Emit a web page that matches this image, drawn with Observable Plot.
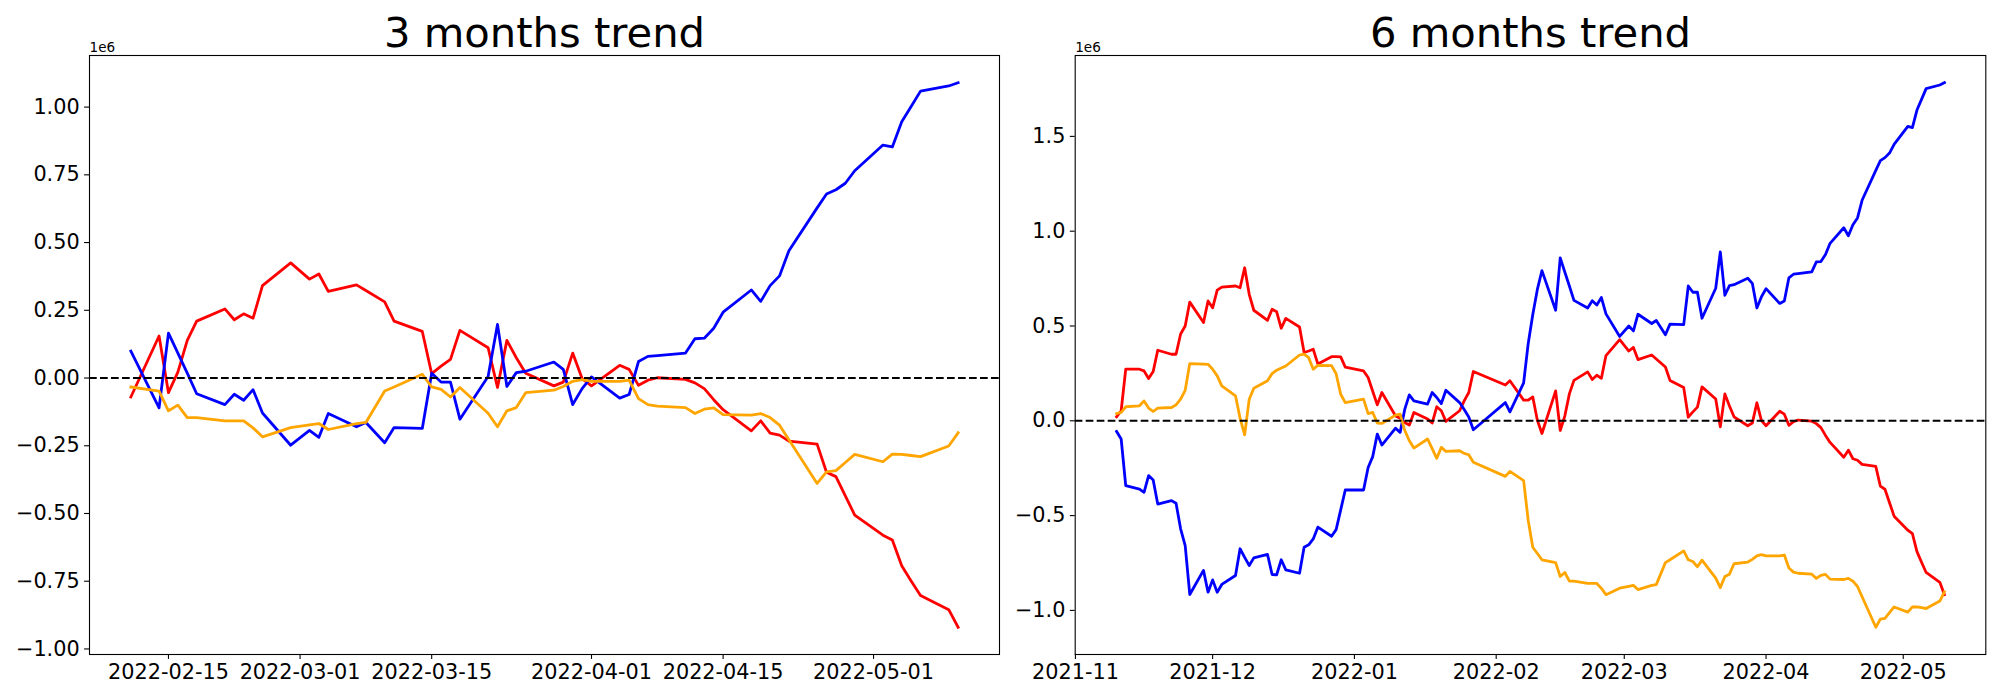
<!DOCTYPE html>
<html>
<head>
<meta charset="utf-8">
<script src="https://cdn.jsdelivr.net/npm/d3@7"></script>
<script src="https://cdn.jsdelivr.net/npm/@observablehq/plot@0.6"></script>
<style>
  html, body { margin: 0; padding: 0; background: #fff; }
  #wrap { position: relative; width: 2000px; height: 700px; overflow: hidden; background: #fff; }
  .panel { position: absolute; top: 0; }
</style>
</head>
<body>
<div id="wrap"></div>
<script>
// ---------- 3 months trend (values in units of 1e6) ----------
const dates3m = ["2022-02-11","2022-02-14","2022-02-15","2022-02-16","2022-02-17","2022-02-18","2022-02-21","2022-02-22","2022-02-23","2022-02-24","2022-02-25","2022-02-28","2022-03-02","2022-03-03","2022-03-04","2022-03-07","2022-03-08","2022-03-10","2022-03-11","2022-03-14","2022-03-15","2022-03-16","2022-03-17","2022-03-18","2022-03-21","2022-03-22","2022-03-23","2022-03-24","2022-03-25","2022-03-28","2022-03-29","2022-03-30","2022-03-31","2022-04-01","2022-04-04","2022-04-05","2022-04-06","2022-04-07","2022-04-08","2022-04-11","2022-04-12","2022-04-13","2022-04-14","2022-04-15","2022-04-18","2022-04-19","2022-04-20","2022-04-21","2022-04-22","2022-04-25","2022-04-26","2022-04-27","2022-04-28","2022-04-29","2022-05-02","2022-05-03","2022-05-04","2022-05-05","2022-05-06","2022-05-09","2022-05-10"];
const red3m = [-0.070,0.155,-0.054,0.022,0.139,0.210,0.255,0.215,0.237,0.221,0.341,0.425,0.365,0.384,0.320,0.344,0.323,0.281,0.210,0.172,0.016,0.044,0.069,0.176,0.112,-0.035,0.139,0.075,0.018,-0.029,-0.015,0.092,-0.002,-0.029,0.047,0.032,-0.027,-0.008,0.001,-0.005,-0.018,-0.039,-0.080,-0.117,-0.195,-0.158,-0.203,-0.211,-0.233,-0.244,-0.348,-0.364,-0.435,-0.506,-0.580,-0.598,-0.693,-0.749,-0.803,-0.855,-0.920];
const blue3m = [0.099,-0.110,0.166,0.092,0.018,-0.058,-0.098,-0.060,-0.082,-0.043,-0.129,-0.248,-0.193,-0.219,-0.131,-0.180,-0.164,-0.239,-0.183,-0.186,0.018,-0.015,-0.015,-0.152,0.006,0.198,-0.031,0.020,0.025,0.059,0.032,-0.098,-0.039,0.004,-0.074,-0.061,0.061,0.080,0.083,0.092,0.145,0.147,0.184,0.243,0.325,0.283,0.341,0.377,0.470,0.628,0.679,0.695,0.719,0.765,0.860,0.853,0.946,1.002,1.059,1.078,1.090];
const orange3m = [-0.033,-0.048,-0.121,-0.100,-0.146,-0.146,-0.158,-0.158,-0.158,-0.184,-0.217,-0.183,-0.173,-0.168,-0.190,-0.168,-0.164,-0.048,-0.033,0.014,-0.033,-0.042,-0.070,-0.035,-0.130,-0.180,-0.121,-0.109,-0.054,-0.045,-0.031,-0.012,-0.006,-0.012,-0.012,-0.008,-0.076,-0.098,-0.104,-0.109,-0.131,-0.115,-0.110,-0.135,-0.137,-0.131,-0.146,-0.174,-0.228,-0.389,-0.346,-0.342,-0.312,-0.282,-0.309,-0.281,-0.282,-0.286,-0.290,-0.251,-0.202];
const xTicks3m = ["2022-02-15","2022-03-01","2022-03-15","2022-04-01","2022-04-15","2022-05-01"];
const yTicks3m = [-1.0,-0.75,-0.5,-0.25,0,0.25,0.5,0.75,1.0];

// ---------- 6 months trend (values in units of 1e6) ----------
const dates6m = ["2021-11-10","2021-11-11","2021-11-12","2021-11-15","2021-11-16","2021-11-17","2021-11-18","2021-11-19","2021-11-22","2021-11-23","2021-11-24","2021-11-25","2021-11-26","2021-11-29","2021-11-30","2021-12-01","2021-12-02","2021-12-03","2021-12-06","2021-12-07","2021-12-08","2021-12-09","2021-12-10","2021-12-13","2021-12-14","2021-12-15","2021-12-16","2021-12-17","2021-12-20","2021-12-21","2021-12-22","2021-12-23","2021-12-24","2021-12-27","2021-12-28","2021-12-29","2021-12-30","2022-01-03","2022-01-04","2022-01-05","2022-01-06","2022-01-07","2022-01-10","2022-01-11","2022-01-12","2022-01-13","2022-01-14","2022-01-17","2022-01-18","2022-01-19","2022-01-20","2022-01-21","2022-01-24","2022-01-25","2022-01-26","2022-01-27","2022-02-03","2022-02-04","2022-02-07","2022-02-08","2022-02-09","2022-02-10",
"2022-02-11","2022-02-14","2022-02-15","2022-02-16","2022-02-17","2022-02-18","2022-02-21","2022-02-22","2022-02-23","2022-02-24","2022-02-25","2022-02-28","2022-03-02","2022-03-03","2022-03-04","2022-03-07","2022-03-08","2022-03-10","2022-03-11","2022-03-14","2022-03-15","2022-03-16","2022-03-17","2022-03-18","2022-03-21","2022-03-22","2022-03-23","2022-03-24","2022-03-25","2022-03-28","2022-03-29","2022-03-30","2022-03-31","2022-04-01","2022-04-04","2022-04-05","2022-04-06","2022-04-07","2022-04-08","2022-04-11","2022-04-12","2022-04-13","2022-04-14","2022-04-15","2022-04-18","2022-04-19","2022-04-20","2022-04-21","2022-04-22","2022-04-25","2022-04-26","2022-04-27","2022-04-28","2022-04-29","2022-05-02","2022-05-03","2022-05-04","2022-05-05","2022-05-06","2022-05-09","2022-05-10"];
const red6m = [0.021,0.053,0.272,0.272,0.263,0.223,0.260,0.372,0.351,0.351,0.458,0.500,0.626,0.518,0.632,0.596,0.689,0.705,0.711,0.702,0.807,0.667,0.583,0.530,0.588,0.575,0.488,0.540,0.495,0.360,0.368,0.377,0.300,0.338,0.338,0.337,0.283,0.263,0.228,0.156,0.084,0.149,0.025,0.014,-0.009,-0.023,0.044,0.009,-0.012,0.074,0.053,-0.003,0.053,0.105,0.149,0.260,0.189,0.211,0.109,0.109,0.126,0.003,
-0.067,0.158,-0.051,0.025,0.142,0.213,0.258,0.218,0.240,0.224,0.344,0.428,0.368,0.387,0.323,0.347,0.326,0.284,0.213,0.175,0.019,0.047,0.072,0.179,0.115,-0.032,0.142,0.078,0.021,-0.026,-0.012,0.095,0.001,-0.026,0.050,0.035,-0.024,-0.005,0.004,-0.002,-0.015,-0.036,-0.077,-0.114,-0.192,-0.155,-0.200,-0.208,-0.230,-0.241,-0.345,-0.361,-0.432,-0.503,-0.577,-0.595,-0.690,-0.746,-0.800,-0.852,-0.917];
const blue6m = [-0.056,-0.096,-0.342,-0.360,-0.377,-0.289,-0.312,-0.439,-0.421,-0.435,-0.570,-0.658,-0.916,-0.789,-0.904,-0.839,-0.904,-0.863,-0.816,-0.675,-0.720,-0.763,-0.723,-0.705,-0.811,-0.812,-0.733,-0.786,-0.804,-0.667,-0.654,-0.623,-0.561,-0.609,-0.574,-0.470,-0.365,-0.365,-0.246,-0.189,-0.070,-0.128,-0.039,-0.061,0.060,0.137,0.105,0.088,0.149,0.123,0.091,0.161,0.096,0.060,0.020,-0.047,0.096,0.047,0.200,0.408,0.561,0.693,
0.792,0.583,0.859,0.785,0.711,0.635,0.595,0.633,0.611,0.650,0.564,0.445,0.500,0.474,0.562,0.513,0.529,0.454,0.510,0.507,0.711,0.678,0.678,0.541,0.699,0.891,0.662,0.713,0.718,0.752,0.725,0.595,0.654,0.697,0.619,0.632,0.754,0.773,0.776,0.785,0.838,0.840,0.877,0.936,1.018,0.976,1.034,1.070,1.163,1.321,1.372,1.388,1.412,1.458,1.553,1.546,1.639,1.695,1.752,1.771,1.783];
const orange6m = [0.038,0.044,0.074,0.079,0.105,0.067,0.049,0.067,0.070,0.084,0.114,0.161,0.302,0.299,0.298,0.272,0.237,0.184,0.132,0.014,-0.074,0.114,0.172,0.211,0.249,0.267,0.278,0.289,0.347,0.352,0.333,0.272,0.292,0.291,0.248,0.140,0.096,0.114,0.038,0.044,-0.012,-0.014,0.030,0.035,-0.050,-0.105,-0.144,-0.096,-0.147,-0.198,-0.140,-0.161,-0.158,-0.172,-0.179,-0.219,-0.293,-0.267,-0.316,-0.526,-0.667,-0.700,
-0.733,-0.748,-0.821,-0.800,-0.846,-0.846,-0.858,-0.858,-0.858,-0.884,-0.917,-0.883,-0.873,-0.868,-0.890,-0.868,-0.864,-0.748,-0.733,-0.686,-0.733,-0.742,-0.770,-0.735,-0.830,-0.880,-0.821,-0.809,-0.754,-0.745,-0.731,-0.712,-0.706,-0.712,-0.712,-0.708,-0.776,-0.798,-0.804,-0.809,-0.831,-0.815,-0.810,-0.835,-0.837,-0.831,-0.846,-0.874,-0.928,-1.089,-1.046,-1.042,-1.012,-0.982,-1.009,-0.981,-0.982,-0.986,-0.990,-0.951,-0.902];
const xTicks6m = ["2021-11-01","2021-12-01","2022-01-01","2022-02-01","2022-03-01","2022-04-01","2022-05-01"];
const yTicks6m = [-1.0,-0.5,0,0.5,1.0,1.5];

const seriesColors = ["red","blue","orange"];
const titles = ["3 months trend","6 months trend"];

const parse = d3.utcParse("%Y-%m-%d");
const toRows = (dates, vals) => dates.map((d, i) => ({date: parse(d), value: vals[i]}));
const minusFmt = k => d => (d < 0 ? "\u2212" : "") + Math.abs(d).toFixed(k);

function padded(lo, hi) { const p = (hi - lo) * 0.05; return [lo - p, hi + p]; }

function makePanel({dates, series, xTicks, xFmt, yTicks, yDigits, title, width, marginLeft, marginRight}) {
  const rows = series.map(v => toRows(dates, v));
  const allVals = series.flat();
  const t = dates.map(d => +parse(d));
  const xd = padded(d3.min(t), d3.max(t)).map(v => new Date(v));
  const yd = padded(d3.min(allVals), d3.max(allVals));
  return Plot.plot({
    width, height: 700,
    marginLeft, marginRight, marginTop: 55, marginBottom: 46,
    style: {fontFamily: "DejaVu Sans, sans-serif", fontSize: "20.8px", color: "black", background: "white", overflow: "visible"},
    x: {type: "utc", domain: xd, axis: null},
    y: {domain: yd, axis: null},
    marks: [
      ...rows.map((r, i) => Plot.line(r, {x: "date", y: "value", stroke: seriesColors[i], strokeWidth: 2.8, strokeLinejoin: "round", strokeLinecap: "square"})),
      Plot.ruleY([0], {stroke: "black", strokeWidth: 2.08, strokeDasharray: "7.7,3.3"}),
      Plot.frame({stroke: "black", strokeWidth: 1.1}),
      Plot.axisX({ticks: xTicks.map(parse), tickFormat: d3.utcFormat(xFmt), tickSize: 4.9, tickPadding: 4.9, strokeWidth: 1.1, label: null}),
      Plot.axisY({ticks: yTicks, tickFormat: minusFmt(yDigits), tickSize: 4.9, tickPadding: 4.9, strokeWidth: 1.1, label: null}),
      Plot.text([title], {text: d => d, frameAnchor: "top", lineAnchor: "bottom", dy: -8.3, fontSize: 41.7}),
      Plot.text(["1e6"], {text: d => d, frameAnchor: "top-left", textAnchor: "start", lineAnchor: "bottom", dy: -3.5, fontSize: 13.6})
    ]
  });
}

const wrap = document.getElementById("wrap");
const left = makePanel({dates: dates3m, series: [red3m, blue3m, orange3m], xTicks: xTicks3m, xFmt: "%Y-%m-%d", yTicks: yTicks3m, yDigits: 2, title: titles[0], width: 1037, marginLeft: 89, marginRight: 38});
left.classList.add("panel"); left.style.left = "0px";
wrap.appendChild(left);
const right = makePanel({dates: dates6m, series: [red6m, blue6m, orange6m], xTicks: xTicks6m, xFmt: "%Y-%m", yTicks: yTicks6m, yDigits: 1, title: titles[1], width: 963, marginLeft: 37.7, marginRight: 14.7});
right.classList.add("panel"); right.style.left = "1037px";
wrap.appendChild(right);
</script>
</body>
</html>
